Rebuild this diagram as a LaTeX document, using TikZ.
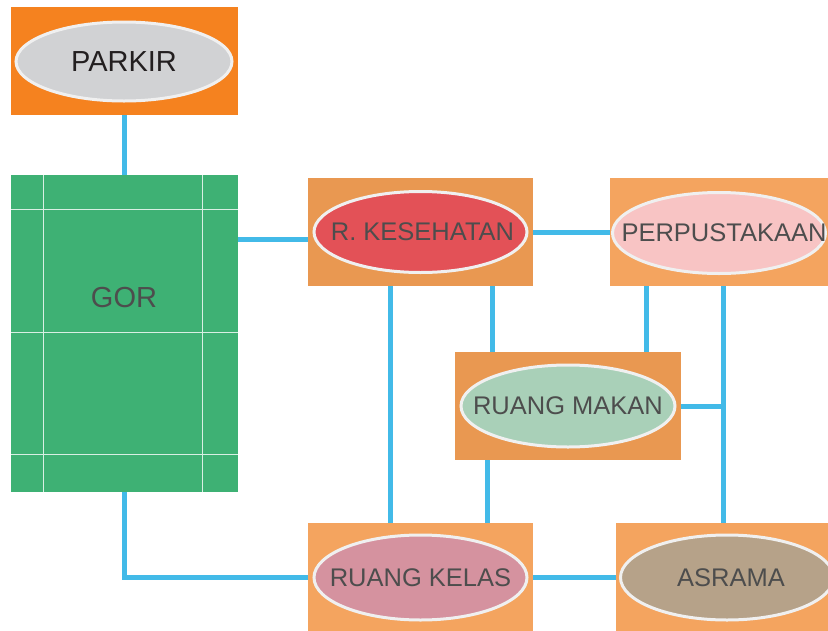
\documentclass[tikz,border=0pt]{standalone}
\usepackage{fontspec}
\setmainfont{Liberation Sans}
\usetikzlibrary{positioning,shapes.geometric,calc}
\definecolor{parkirorange}{HTML}{F5821F}
\definecolor{boxdark}{HTML}{E99851}
\definecolor{boxlight}{HTML}{F4A45F}
\definecolor{gorgreen}{HTML}{3EB174}
\definecolor{linkblue}{HTML}{42BAE8}
\definecolor{txtgray}{HTML}{4D4D4D}
\definecolor{txtdark}{HTML}{231F20}
\definecolor{fillgray}{HTML}{D1D2D4}
\definecolor{fillred}{HTML}{E35157}
\definecolor{fillpink}{HTML}{F8C4C4}
\definecolor{fillmint}{HTML}{A9D0B8}
\definecolor{fillrose}{HTML}{D5929F}
\definecolor{filltan}{HTML}{B6A289}

\begin{document}
\begin{tikzpicture}[
  x=1pt, y=-1pt,
  font=\fontsize{25.5}{30}\selectfont,
  room/.style={rectangle, draw=none, inner sep=0pt,
               minimum width=225pt, minimum height=108pt},
  oval/.style={ellipse, draw=white!94!black, line width=3pt, inner sep=0pt,
               minimum width=213pt, minimum height=81pt},
  roomtxt/.style={text=txtgray, inner sep=0pt},
  courtline/.style={draw=white!80!gorgreen, line width=1.2pt},
  link/.style={draw=linkblue, line width=5pt},
]
\useasboundingbox (0,0) rectangle (828,630);

% ─── parkir and gor (left column) ─────────────────────────────────────────
\node[room, fill=parkirorange, minimum width=227pt] (parkir) at (124.5,61) {};
\node[oval, fill=fillgray, minimum width=216pt, minimum height=79pt,
      label={[roomtxt, text=txtdark, font=\fontsize{29}{32}\selectfont]center:PARKIR}]
  (parkirlbl) at (124,61.5) {};

\node[room, fill=gorgreen, minimum width=227pt, minimum height=317pt] (gor)
  at (124.5,333.5) {};
\draw[courtline] ([xshift=33pt]gor.north west) -- ([xshift=33pt]gor.south west);
\draw[courtline] ([xshift=-36pt]gor.north east) -- ([xshift=-36pt]gor.south east);
\foreach \dy in {35,158,280}
  \draw[courtline] ([yshift=-\dy pt]gor.north west) -- ([yshift=-\dy pt]gor.north east);
\node[roomtxt, font=\fontsize{29}{32}\selectfont] (gorlbl) at (124,298) {GOR};

% ─── top row ──────────────────────────────────────────────────────────────
\node[room, fill=boxdark] (kes) at (420.5,232) {};
\node[oval, fill=fillred, label={[roomtxt, xshift=2pt]center:R. KESEHATAN}]
  (keslbl) at (420.5,232) {};
\node[room, fill=boxlight, minimum width=226pt] (perp) at (723,232) {};
\node[oval, fill=fillpink, label={[roomtxt, xshift=5pt]center:PERPUSTAKAAN}]
  (perplbl) at (719,233) {};

% ─── middle ───────────────────────────────────────────────────────────────
\node[room, fill=boxdark, minimum width=226pt] (makan) at (568,406) {};
\node[oval, fill=fillmint, minimum width=214pt, minimum height=82pt,
      label={[roomtxt]center:RUANG MAKAN}] (makanlbl) at (568,406) {};

% ─── bottom row ───────────────────────────────────────────────────────────
\node[room, fill=boxlight] (kelas) at (420.5,577) {};
\node[oval, fill=fillrose, minimum height=85pt,
      label={[roomtxt]center:RUANG KELAS}] (kelaslbl) at (420.5,577.5) {};
\node[room, fill=boxlight] (asrama) at (728.5,577) {};
\node[oval, fill=filltan, minimum height=85pt,
      label={[roomtxt, xshift=4pt]center:ASRAMA}] (asramalbl) at (727,577.5) {};

% ─── connectors ───────────────────────────────────────────────────────────
\draw[link] (parkir.south) -- (gor.north);
\draw[link] ([yshift=-7pt]kes.west) -- ([yshift=-7pt]kes.west -| gor.east);
\draw[link] (kes.east) -- (perp.west);
\draw[link] ([xshift=-30.5pt]kes.south) -- ([xshift=-30.5pt]kes.south |- kelas.north);
\draw[link] ([xshift=71.5pt]kes.south) -- ([xshift=71.5pt]kes.south |- makan.north);
\draw[link] ([xshift=-77pt]perp.south) -- ([xshift=-77pt]perp.south |- makan.north);
\draw[link] (perp.south) -- (perp.south |- asrama.north);
\draw[link] (makan.east) -- (makan.east -| perp.south);
\draw[link] ([xshift=-81pt]makan.south) -- ([xshift=-81pt]makan.south |- kelas.north);
\draw[link] (gor.south) |- (kelas.west);
\draw[link] (kelas.east) -- (asrama.west);

\end{tikzpicture}
\end{document}
